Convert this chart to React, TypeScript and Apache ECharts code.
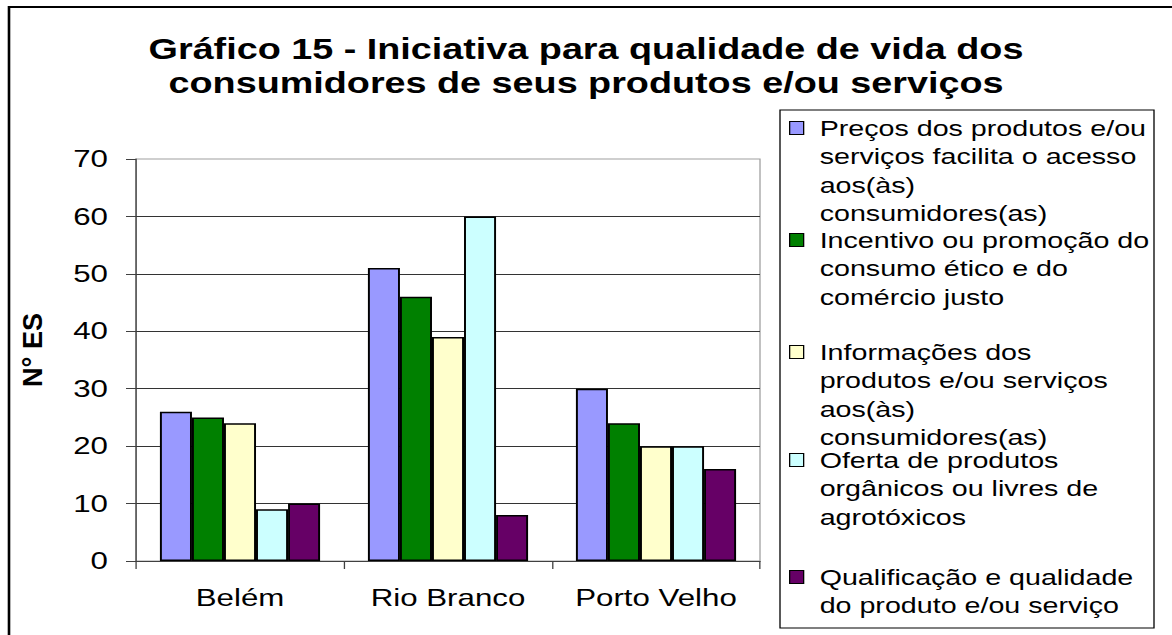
import React, { useEffect, useRef } from 'react';
import * as echarts from 'echarts';

// ---------- data ----------
const categories = ['Belém', 'Rio Branco', 'Porto Velho'];
const seriesNames = [
  'Preços dos produtos e/ou serviços facilita o acesso aos(às) consumidores(as)',
  'Incentivo ou promoção do consumo ético e do comércio justo',
  'Informações dos produtos e/ou serviços aos(às) consumidores(as)',
  'Oferta de produtos orgânicos ou livres de agrotóxicos',
  'Qualificação e qualidade do produto e/ou serviço',
];
const legendLabels = [
  'Preços dos produtos e/ou\nserviços facilita o acesso\naos(às)\nconsumidores(as)',
  'Incentivo ou promoção do\nconsumo ético e do\ncomércio justo',
  'Informações dos\nprodutos e/ou serviços\naos(às)\nconsumidores(as)',
  'Oferta de produtos\norgânicos ou livres de\nagrotóxicos',
  'Qualificação e qualidade\ndo produto e/ou serviço',
];
const precos = [26, 51, 30];
const incentivo = [25, 46, 24];
const informacoes = [24, 39, 20];
const oferta = [9, 60, 20];
const qualificacao = [10, 8, 16];
const seriesValues = [precos, incentivo, informacoes, oferta, qualificacao];
const seriesColors = ['#9999FF', '#008000', '#FFFFCC', '#CCFFFF', '#660066'];
const yMin = 0;
const yMax = 70;
const yInterval = 10;
const titleText = 'Gráfico 15 - Iniciativa para qualidade de vida dos\nconsumidores de seus produtos e/ou serviços';
const yName = 'N° ES';

// ---------- layout ----------
const W = 900;
const H = 635;
const S = 1172 / W; // horizontal stretch applied via CSS (reference text is wide)
const px = (x: number) => x / S;
const FONT = '"Liberation Sans", Arial, Helvetica, sans-serif';
const LH = 28.5;
const legendCenters = [128, 240, 352, 460, 577];

export default function App() {
  const ref = useRef<HTMLDivElement>(null);
  useEffect(() => {
    if (!ref.current) return;
    const chart = echarts.init(ref.current, null, { renderer: 'svg' });
    const gridLeft = px(136);
    const gridRight = px(760);
    const option: any = {
      animation: false,
      backgroundColor: '#ffffff',
      title: {
        text: titleText,
        left: 'center',
        top: 32,
        padding: 0,
        textStyle: {
          fontFamily: FONT,
          fontSize: 29,
          fontWeight: 'bold',
          color: '#000',
          lineHeight: 34,
        },
      },
      grid: {
        left: gridLeft,
        width: gridRight - gridLeft,
        top: 159,
        height: 402,
        show: true,
        borderColor: '#a0a0a0',
        borderWidth: 1,
        backgroundColor: 'transparent',
      },
      xAxis: {
        type: 'category',
        data: categories,
        axisLine: { show: true, lineStyle: { color: '#404040', width: 1 } },
        axisTick: { show: true, length: 8, lineStyle: { color: '#404040' } },
        axisLabel: { interval: 0, fontFamily: FONT, fontSize: 24, color: '#000', margin: 25 },
        splitLine: { show: false },
      },
      yAxis: {
        type: 'value',
        min: yMin,
        max: yMax,
        interval: yInterval,
        axisLine: { show: true, lineStyle: { color: '#404040', width: 1 } },
        axisTick: { show: true, length: px(10), lineStyle: { color: '#404040' } },
        axisLabel: { fontFamily: FONT, fontSize: 24, color: '#000', margin: px(136) - px(108) },
        splitLine: { show: true, showMaxLine: false, lineStyle: { color: '#333333', width: 1 } },
      },
      legend: seriesNames.map((name, i) => {
        const n = legendLabels[i].split('\n').length;
        const lead = ' \n'.repeat(n - 1);
        return {
          orient: 'vertical',
          left: px(789),
          top: legendCenters[i] - ((2 * n - 1) * LH) / 2,
          padding: 0,
          data: [name],
          selectedMode: false,
          icon: 'rect',
          itemWidth: px(14),
          itemHeight: 13,
          itemStyle: { borderColor: '#000', borderWidth: 1 },
          formatter: () => lead + legendLabels[i],
          textStyle: {
            fontFamily: FONT,
            fontSize: 22,
            color: '#000',
            lineHeight: LH,
            padding: [0, 0, 0, px(819) - (px(789) + px(14) + 5)],
          },
        };
      }),
      graphic: [
        {
          type: 'rect',
          z: 0,
          silent: true,
          shape: { x: px(9), y: 7, width: W + 50, height: H + 50 },
          style: { fill: 'transparent', stroke: '#000', lineWidth: 2 },
        },
        {
          type: 'rect',
          z: 0,
          silent: true,
          shape: { x: px(780), y: 110, width: px(1154) - px(780), height: 518 },
          style: { fill: 'transparent', stroke: '#000', lineWidth: 1 },
        },
        {
          type: 'text',
          x: px(33),
          y: 350,
          rotation: Math.PI / 2,
          scaleY: 1 / S,
          silent: true,
          style: {
            text: yName,
            font: `bold 27px ${FONT}`,
            fill: '#000',
            align: 'center',
            verticalAlign: 'middle',
            textAlign: 'center',
            textVerticalAlign: 'middle',
          },
        },
      ],
      series: seriesNames.map((name, i) => ({
        name,
        type: 'bar',
        data: seriesValues[i],
        barGap: '0%',
        barCategoryGap: '23%',
        itemStyle: { color: seriesColors[i], borderColor: '#000', borderWidth: 1.5 },
      })),
    };
    chart.setOption(option);
    return () => chart.dispose();
  }, []);
  return (
    <div
      ref={ref}
      style={{
        position: 'fixed',
        left: 0,
        top: 0,
        width: W,
        height: H,
        transform: `scaleX(${S})`,
        transformOrigin: '0 0',
        background: '#fff',
      }}
    />
  );
}
